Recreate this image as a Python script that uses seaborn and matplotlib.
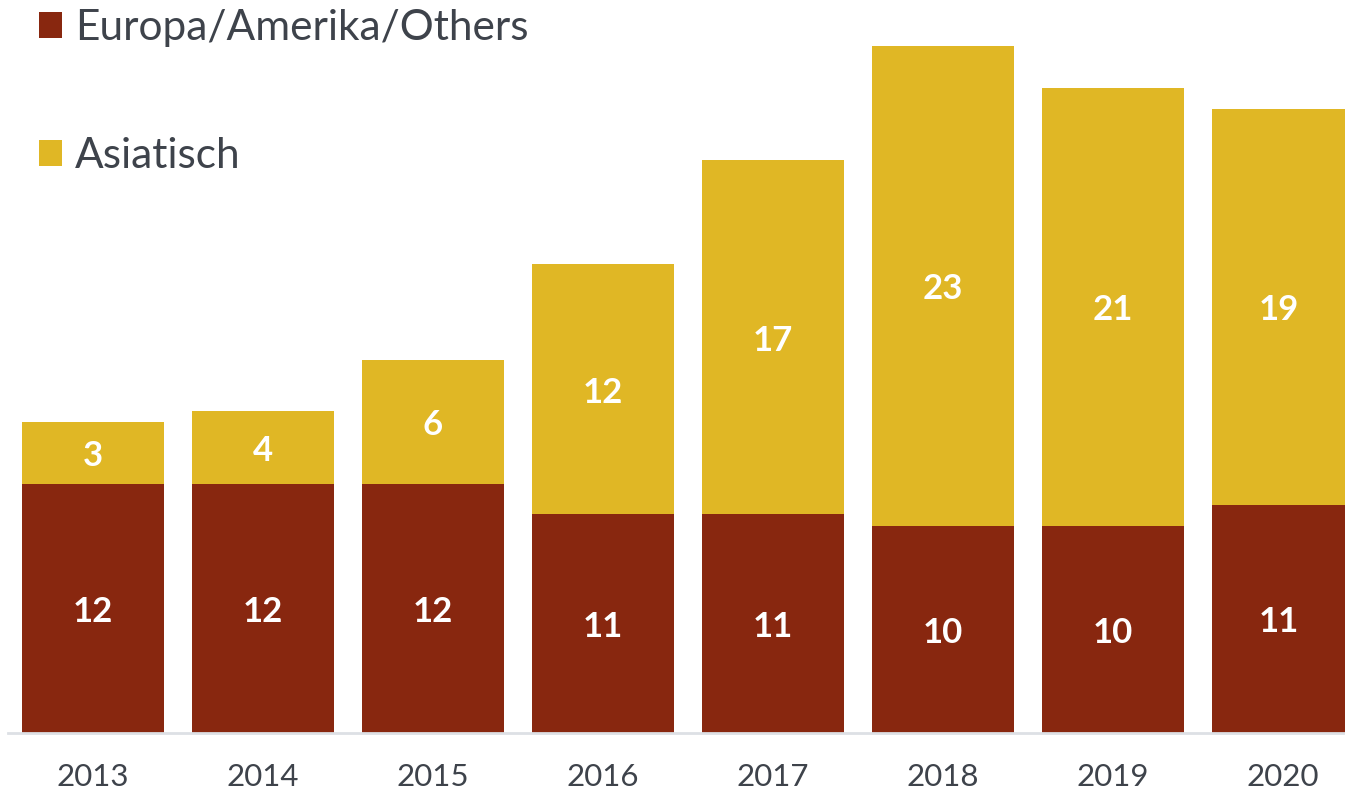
import matplotlib
matplotlib.use("Agg")
import matplotlib.pyplot as plt
import seaborn as sns
import pandas as pd
from matplotlib.patches import Patch

years = ["2013", "2014", "2015", "2016", "2017", "2018", "2019", "2020"]
europa = [12.0, 12.0, 12.0, 10.55, 10.55, 10.0, 10.0, 11.0]
asiatisch = [3.0, 3.52, 6.0, 12.05, 17.06, 23.1, 21.1, 19.1]
series_names = ["Europa/Amerika/Others", "Asiatisch"]

RED = "#88270F"
YELLOW = "#E0B725"
TEXT = "#3E434B"

sns.set_theme(style="white")
plt.rcParams["font.family"] = ["Lato", "DejaVu Sans"]

fig = plt.figure(figsize=(13.45, 7.9), dpi=100)
ax = fig.add_axes([8 / 1345, 57 / 790, 1337 / 1345, 733 / 790])

df = pd.DataFrame({"year": years, "eu": europa, "asia": asiatisch})
sns.barplot(data=df, x="year", y="eu", color=RED, saturation=1, width=0.835,
            ax=ax, linewidth=0)
sns.barplot(data=df, x="year", y="asia", color=YELLOW, saturation=1, width=0.835,
            bottom=df["eu"], ax=ax, linewidth=0)

for cont in ax.containers:
    anns = ax.bar_label(cont, fmt="{:.0f}", label_type="center", color="white",
                        fontsize=25, fontweight="bold")
    for a in anns:
        a.xyann = (0, -2.5)

ax.set_xlim(-0.5, 7.365)
ax.set_ylim(0, 35.33)
ax.set_xlabel("")
ax.set_ylabel("")
ax.set_yticks([])
for s in ["top", "left", "right"]:
    ax.spines[s].set_visible(False)
ax.spines["bottom"].set_color("#DDE0E5")
ax.spines["bottom"].set_linewidth(2)
ax.tick_params(axis="x", length=0, pad=21.5, labelsize=22.5, labelcolor=TEXT)

handles = [Patch(facecolor=RED, edgecolor="none"), Patch(facecolor=YELLOW, edgecolor="none")]
leg = fig.legend(handles, series_names, loc="upper left",
                 bbox_to_anchor=(39 / 1345, 1 - 9 / 790), frameon=False,
                 fontsize=30.5, handlelength=0.55, handleheight=0.55,
                 handletextpad=0.3, labelspacing=2.12, labelcolor=TEXT,
                 borderaxespad=0, borderpad=0)

fig.savefig("out.png", dpi=100)
